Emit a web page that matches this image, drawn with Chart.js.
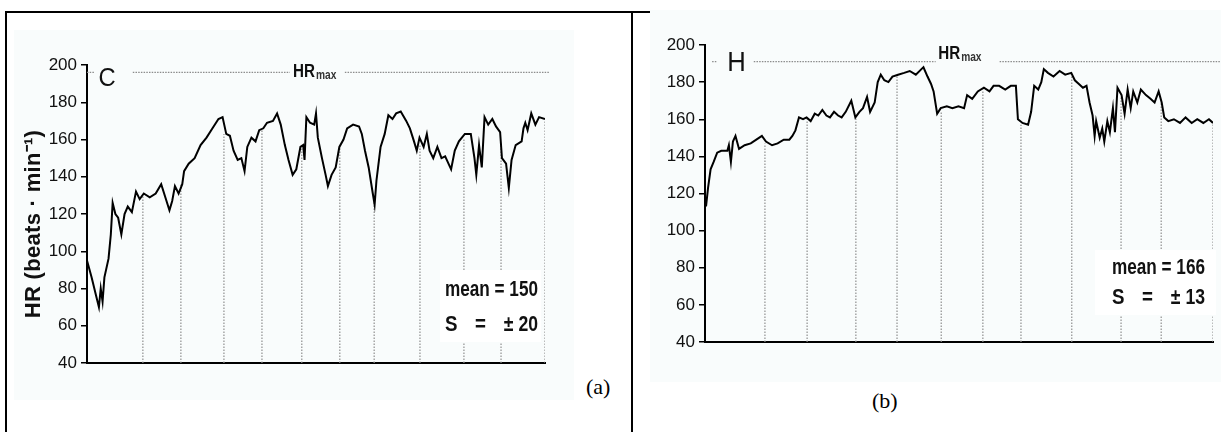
<!DOCTYPE html>
<html>
<head>
<meta charset="utf-8">
<script src="https://cdn.jsdelivr.net/npm/chart.js@4"></script>
<style>
  body { margin: 0; width: 1221px; height: 432px; background: #fff; position: relative; overflow: hidden; }
  .rule { position: absolute; background: #000; }
  .wrap { position: absolute; }
  .wrap canvas { background: #f9fcfc; }
  .tag { position: absolute; font-family: "Liberation Serif", "Times New Roman", serif; font-size: 22px; color: #000; }
</style>
</head>
<body>
<div class="rule" style="left:6px;top:11px;width:1215px;height:2px"></div>
<div class="rule" style="left:5px;top:11px;width:2px;height:421px"></div>
<div class="rule" style="left:631px;top:11px;width:2px;height:421px"></div>

<div class="wrap" style="left:14px;top:30px;width:560px;height:370px"><canvas id="chartC" width="560" height="370"></canvas></div>
<div class="wrap" style="left:650px;top:10px;width:571px;height:372px"><canvas id="chartH" width="571" height="372"></canvas></div>

<div class="tag" style="left:586px;top:374px">(a)</div>
<div class="tag" style="left:872px;top:388px">(b)</div>

<script>
"use strict";

// x = percent of session time, y = heart rate (beats/min)
const yTicks = [40, 60, 80, 100, 120, 140, 160, 180, 200];

const timeC = [0, 1, 2, 2.6, 3, 3.4, 3.8, 4.7, 5.2, 5.6, 6.2, 6.8, 7.5, 8.2, 8.9, 9.8, 10.7, 11.5, 12.4, 13.7,
  15, 16.2, 17.1, 18, 18.6, 19.2, 20, 20.8, 21.2, 22.2, 23.5, 24.8, 26.1, 27.4, 28.7, 29.6, 30.4, 31.2, 32, 32.9,
  33.7, 34.4, 35, 35.9, 36.8, 37.6, 38.5, 39.3, 40.6, 41.5, 42.3, 43.2, 44, 44.9, 45.7, 46.6, 47.2, 47.5, 47.9, 48.7,
  49.6, 50, 50.4, 51.3, 52.1, 52.6, 53.4, 54.3, 55.1, 56, 56.8, 58.1, 59.4, 60, 60.7, 61.5, 62.4, 62.8, 63.2, 64.1,
  65, 65.8, 66.7, 67.5, 68.5, 69.7, 70.5, 71.4, 72, 72.6, 73.5, 74.2, 74.8, 75.6, 76.5, 77.4, 78.2, 79.5, 80.3, 81.2,
  82.5, 83.8, 84.6, 85, 85.6, 86.2, 86.8, 87.6, 88.5, 89.3, 90.2, 90.6, 91.5, 92.1, 92.7, 93.6, 94.9, 95.3, 95.7, 96.2,
  97, 97.9, 98.7, 100];
const hrC = [95, 86, 76, 70, 80, 73, 86, 96, 109, 126, 120, 118, 109, 120, 124, 121, 132, 128, 131, 129,
  131, 136, 129, 122, 127, 135, 131, 136, 143, 147, 150, 157, 161, 166, 171, 172, 163, 162, 154, 149,
  150, 143, 156, 161, 159, 165, 166, 169, 170, 174, 168, 157, 149, 141, 144, 156, 157, 149, 172, 169,
  168, 174, 161, 150, 141, 135, 141, 145, 156, 160, 166, 168, 167, 163, 154, 145, 131, 125, 138, 156,
  163, 173, 171, 174, 175, 170, 166, 159, 154, 161, 156, 163, 154, 150, 156, 150, 151, 144, 154, 159,
  163, 163, 150, 141, 157, 145, 172, 168, 171, 167, 164, 150, 147, 134, 149, 157, 159, 166, 169, 165,
  174, 168, 172, 171];
const splitC = [12.2, 20.5, 29.9, 38.2, 46.9, 55.2, 62.7, 72.7, 82.3, 90.4, 100];
const splitTopC = [130, 136, 163, 165, 155, 156, 128, 157, 160, 158, 170];

const timeH = [0.2, 0.6, 1.1, 1.7, 2.4, 3.2, 4.4, 4.7, 5.1, 5.5, 6, 6.7, 7.8, 9, 10.1, 11.2, 12, 13.2, 14.3, 15.5,
  16.6, 17.2, 17.8, 18.5, 19.3, 20, 20.8, 21.6, 22.3, 23.1, 23.9, 24.6, 25.4, 26.2, 26.9, 27.7, 28.8, 29.6, 30.4, 31.1,
  31.9, 32.5, 33.4, 34, 34.6, 35.3, 36.1, 36.9, 38, 39.2, 40.3, 41.5, 42.6, 43, 43.8, 44.5, 45, 45.7, 46.4, 47.6,
  48.7, 49.9, 51, 51.6, 52.6, 53.7, 54.9, 56, 56.8, 57.9, 59.1, 60.2, 61.2, 61.6, 62.5, 63.6, 64.2, 64.8, 65.6, 66.2,
  66.7, 67.5, 68.6, 69.8, 70.9, 72.1, 72.8, 73.6, 74.4, 75.1, 75.7, 76.3, 76.7, 77, 77.7, 78.2, 78.6, 79.2, 79.7, 80.3,
  80.7, 81.2, 82, 82.6, 83.2, 83.8, 84.3, 85.1, 85.8, 86.8, 87.7, 88.5, 89.3, 89.9, 90.4, 91.2, 92.3, 93.5, 94.6, 95.8,
  96.9, 98.1, 99.2, 100];
const hrH = [113, 123, 133, 137, 142, 143, 143, 146, 137, 148, 151, 144, 146, 147, 149, 151, 148, 146, 147, 149,
  149, 151, 154, 161, 160, 161, 159, 163, 162, 165, 162, 161, 164, 162, 161, 164, 170, 161, 164, 166,
  172, 164, 169, 180, 184, 181, 180, 183, 184, 185, 186, 184, 187, 188, 183, 179, 175, 163, 166, 167,
  166, 167, 166, 173, 171, 175, 177, 175, 178, 178, 176, 178, 178, 160, 158, 157, 164, 178, 176, 180,
  187, 185, 183, 186, 184, 185, 181, 179, 177, 178, 169, 162, 151, 159, 150, 155, 148, 159, 153, 166,
  153, 177, 173, 163, 176, 166, 175, 169, 176, 173, 171, 169, 175, 169, 161, 159, 160, 158, 161, 158,
  160, 158, 160, 158];
const splitH = [11.8, 20.1, 29.7, 37.8, 46.5, 54.7, 62.2, 72.2, 81.9, 89.8, 100];
const splitTopH = [147, 160, 161, 183, 164, 176, 157, 184, 172, 169, 158];

const SANS = '"Liberation Sans", Arial, sans-serif';

// draw text squeezed horizontally, to imitate the condensed face of the original figure
function narrowText(ctx, text, x, y, align, font, sx) {
  ctx.save();
  ctx.font = font;
  ctx.textBaseline = "middle";
  ctx.textAlign = align;
  ctx.translate(x, y);
  ctx.scale(sx, 1);
  ctx.fillText(text, 0, 0);
  const w = ctx.measureText(text).width * sx;
  ctx.restore();
  return w;
}

const decor = {
  id: "decor",
  afterDatasetsDraw(chart, args, o) {
    const { ctx, chartArea: a, scales: { x, y } } = chart;
    ctx.save();

    // HRmax dotted reference line
    const yh = y.getPixelForValue(o.hrMax);
    ctx.strokeStyle = "#8c8c8c";
    ctx.lineWidth = 1.2;
    ctx.setLineDash([1.5, 1.2]);
    o.hrSegs.forEach(([s0, s1]) => {
      ctx.beginPath();
      ctx.moveTo(x.getPixelForValue(s0), yh);
      ctx.lineTo(x.getPixelForValue(s1), yh);
      ctx.stroke();
    });
    ctx.setLineDash([]);

    // panel letter
    ctx.fillStyle = "#111";
    narrowText(ctx, o.letter, x.getPixelForValue(o.letterAt), yh + o.letterDy, "center", o.letterFont, 0.95);

    // HR_max label
    const hx = x.getPixelForValue(o.hrLabelAt);
    const w = narrowText(ctx, "HR", hx, yh + o.hrDy, "left", "bold 19px " + SANS, 0.8);
    ctx.fillStyle = "#333";
    narrowText(ctx, "max", hx + w + 1, yh + o.hrDy + 4, "left", "bold 12px " + SANS, 0.85);

    // mean / S box
    const b = o.box;
    ctx.fillStyle = "#fff";
    ctx.fillRect(a.right + b.l, a.bottom + b.t, b.r - b.l, b.b - b.t);
    ctx.fillStyle = "#111";
    const f = "bold 22px " + SANS;
    const mw = narrowText(ctx, o.meanText, a.right + b.tx, a.bottom + b.y1, "right", f, 0.78);
    const sx0 = a.right + b.tx - mw;
    narrowText(ctx, "S", sx0, a.bottom + b.y2, "left", f, 0.85);
    narrowText(ctx, "=", sx0 + 30, a.bottom + b.y2, "left", f, 0.85);
    narrowText(ctx, o.sdText, a.right + b.tx, a.bottom + b.y2, "right", f, 0.8);

    // rotated y-axis title
    if (o.yTitle) {
      ctx.translate(o.yTitle.x, o.yTitle.y);
      ctx.rotate(-Math.PI / 2);
      ctx.textAlign = "center";
      ctx.textBaseline = "middle";
      ctx.font = "bold 22px " + SANS;
      ctx.letterSpacing = "0.3px";
      ctx.fillText(o.yTitle.text, 0, 0);
    }
    ctx.restore();
  }
};

function makePanel(id, times, hr, splits, splitTops, yWidth, padding, deco) {
  const datasets = [{
    data: times.map((t, i) => ({ x: t, y: hr[i] })),
    borderColor: "#000",
    borderWidth: 2,
    pointRadius: 0,
    tension: 0
  }];
  splits.forEach((s, i) => {
    datasets.push({
      data: [{ x: s, y: 40 }, { x: s, y: splitTops[i] }],
      borderColor: "#8f8f8f",
      borderWidth: 1.2,
      borderDash: [1.5, 1.5],
      pointRadius: 0
    });
  });

  new Chart(document.getElementById(id), {
    type: "line",
    data: { datasets },
    options: {
      responsive: false,
      animation: false,
      layout: { padding },
      plugins: { legend: { display: false }, tooltip: { enabled: false }, decor: deco },
      scales: {
        x: {
          type: "linear",
          min: 0,
          max: 100,
          ticks: { display: false },
          grid: { display: false },
          border: { display: true, color: "#000", width: 2 },
          afterFit: (s) => { s.height = 0; }
        },
        y: {
          min: 40,
          max: 200,
          afterBuildTicks: (s) => { s.ticks = yTicks.map((v) => ({ value: v })); },
          ticks: { color: "#111", font: { family: SANS, size: 17 }, padding: 4 },
          grid: { drawOnChartArea: false, tickLength: 6, color: "#000", lineWidth: 1.5 },
          border: { color: "#000", width: 2 },
          afterFit: (s) => { s.width = yWidth; }
        }
      }
    },
    plugins: [decor]
  });
}

makePanel("chartC", timeC, hrC, splitC, splitTopC, 73, { left: 0, top: 35, right: 29, bottom: 37 }, {
  hrMax: 196,
  hrSegs: [[0, 1.7], [10, 44.3], [56.3, 101.1]],
  letter: "C",
  letterAt: 4.4,
  letterDy: 7,
  letterFont: "25px " + SANS,
  hrLabelAt: 45,
  hrDy: -1,
  meanText: "mean = 150",
  sdText: "± 20",
  box: { l: -105, r: -4, t: -93, b: -21, tx: -7, y1: -73, y2: -38 },
  yTitle: { x: 20, y: 194, text: "HR (beats · min⁻¹)" }
});

makePanel("chartH", timeH, hrH, splitH, splitTopH, 55, { left: 0, top: 35, right: 8, bottom: 40 }, {
  hrMax: 191,
  hrSegs: [[1.4, 2.4], [9.6, 45.4], [58, 101.6]],
  letter: "H",
  letterAt: 6.2,
  letterDy: 2,
  letterFont: "27px " + SANS,
  hrLabelAt: 45.9,
  hrDy: -8,
  meanText: "mean = 166",
  sdText: "± 13",
  box: { l: -118, r: 3, t: -92, b: -27, tx: -8, y1: -74, y2: -44 }
});
</script>
</body>
</html>
